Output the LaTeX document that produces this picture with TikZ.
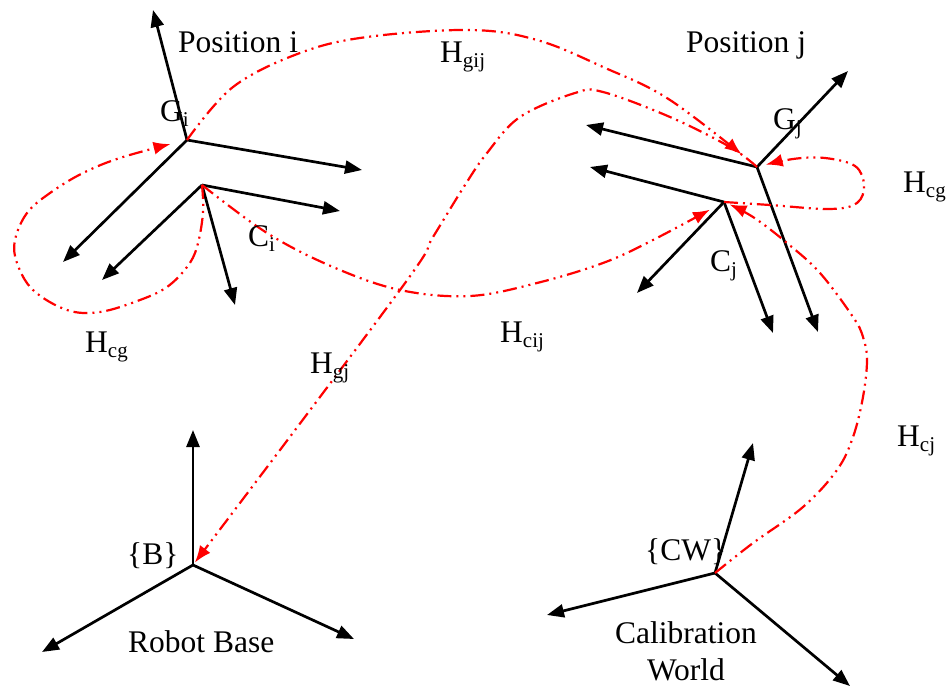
\documentclass[tikz,border=0pt]{standalone}
\usepackage{fontspec}
\setmainfont{Liberation Serif}
\usetikzlibrary{arrows.meta}
\newcommand\lsub[1]{\raisebox{-5pt}{\fontsize{21}{21}\selectfont #1}}
\begin{document}
\begin{tikzpicture}[x=1pt,y=-1pt,
  axis/.style={line width=2.7pt,-{Triangle[length=17pt,width=13pt]}},
  rel/.style={red,line width=2.2pt,dash pattern=on 14pt off 5pt on 2pt off 5pt on 2pt off 5pt,-{Latex[length=17pt,width=13pt]}},
  lbl/.style={anchor=base west,inner sep=0pt,font=\fontsize{31.5}{36}\selectfont}]
\useasboundingbox (0,0) rectangle (948,687);
% frame origins
\coordinate (gi) at (187,140);
\coordinate (ci) at (202,185);
\coordinate (gj) at (757,167);
\coordinate (cj) at (724,202);
\coordinate (b) at (193,565);
\coordinate (cw) at (715,573);
% axes
\draw[axis] (gi) -- (153,10);
\draw[axis] (gi) -- (362,170);
\draw[axis] (gi) -- (63,262);
\draw[axis] (ci) -- (340,211);
\draw[axis] (ci) -- (102,280);
\draw[axis] (ci) -- (235,305);
\draw[axis] (gj) -- (848,71);
\draw[axis] (gj) -- (586,125);
\draw[axis] (gj) -- (818,332);
\draw[axis] (cj) -- (590,167);
\draw[axis] (cj) -- (637,293);
\draw[axis] (cj) -- (773,333);
\draw[axis] (b) -- (193,430);
\draw[axis] (b) -- (42,652);
\draw[axis] (b) -- (354,639);
\draw[axis] (cw) -- (753,443);
\draw[axis] (cw) -- (547,615);
\draw[axis] (cw) -- (850,686);
% relations
\draw[rel,shorten >=20pt] plot[smooth,tension=0.6] coordinates {(gi) (233,87) (300,53) (367,37) (470,30) (537,40) (603,67) (670,100) (gj)};
\draw[rel,shorten >=3pt] plot[smooth,tension=0.6] coordinates {(gj) (730,147) (670,117) (603,92) (575,93) (520,117) (487,153) (465,185) (433,237) (400,290) (b)};
\draw[rel,shorten >=16pt] plot[smooth,tension=0.6] coordinates {(ci) (267,233) (333,267) (400,290) (470,296) (537,283) (603,263) (653,240) (cj)};
\draw[rel,shorten >=17pt] plot[smooth,tension=0.6] coordinates {(ci) (203,213) (197,247) (187,267) (167,287) (140,300) (100,312) (67,310) (33,290) (17,263) (15,240) (27,213) (50,193) (83,173) (123,157) (gi)};
\draw[rel,shorten >=9pt] plot[smooth,tension=0.6] coordinates {(cj) (770,205) (830,209) (857,203) (864,185) (855,166) (825,158) (793,159) (gj)};
\draw[rel,shorten >=6pt] plot[smooth,tension=0.6] coordinates {(cw) (753,543) (803,507) (837,470) (853,437) (863,397) (867,360) (863,337) (853,317) (820,273) (787,243) (753,217) (cj)};
% labels
\node[lbl] (posi) at (178,53) {Position i};
\node[lbl] (posj) at (686,53) {Position j};
\node[lbl] (hgij) at (440,63) {H\lsub{gij}};
\node[lbl] (gilbl) at (160,122) {G\lsub{i}};
\node[lbl] (cilbl) at (248,247) {C\lsub{i}};
\node[lbl] (hcgl) at (85,352) {H\lsub{cg}};
\node[lbl] (hgj) at (310,373) {H\lsub{gj}};
\node[lbl] (blbl) at (127,564) {\{B\}};
\node[lbl] (rb) at (128,652) {Robot Base};
\node[lbl] (hcij) at (500,342) {H\lsub{cij}};
\node[lbl] (gjlbl) at (773,130) {G\lsub{j}};
\node[lbl] (cjlbl) at (710,272) {C\lsub{j}};
\node[lbl] (hcgr) at (903,193) {H\lsub{cg}};
\node[lbl] (hcj) at (897,446) {H\lsub{cj}};
\node[lbl] (cwlbl) at (645,560) {\{CW\}};
\node[lbl,anchor=base] (cal) at (686,643) {Calibration};
\node[lbl,anchor=base] (wld) at (686,680) {World};
\end{tikzpicture}
\end{document}
